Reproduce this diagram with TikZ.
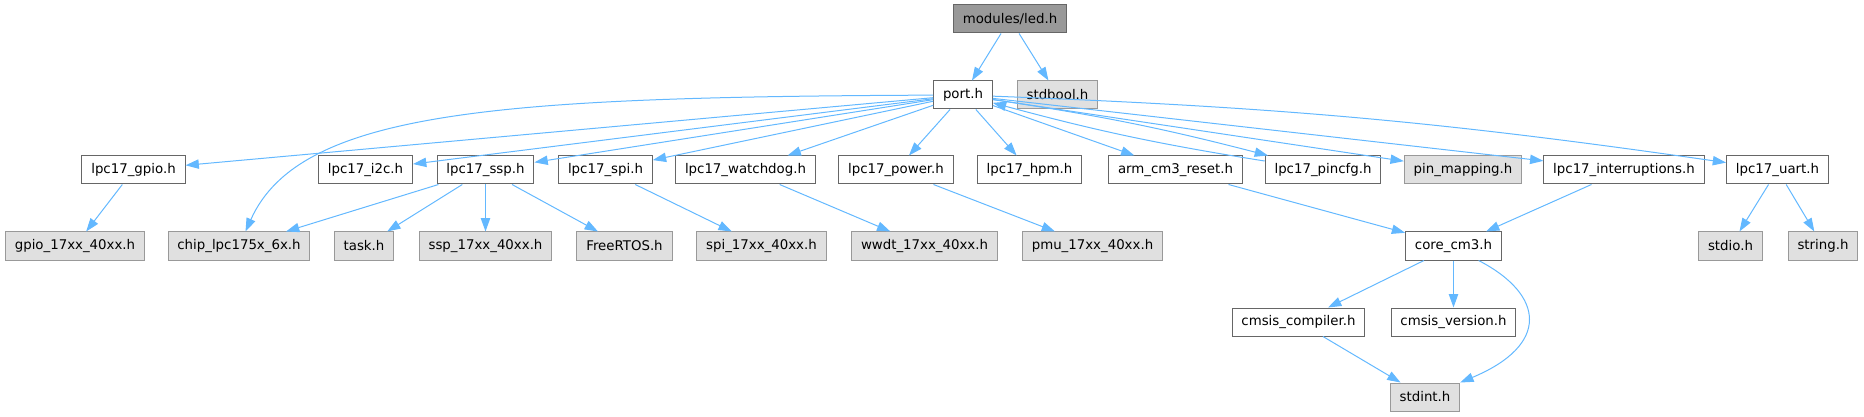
\documentclass[tikz,border=0pt]{standalone}
\usepackage{fontspec}
\setmainfont{DejaVu Sans}
\usetikzlibrary{arrows.meta}

\definecolor{edgeblue}{HTML}{63B8FF}
\definecolor{boxgrey}{HTML}{666666}
\definecolor{extgrey}{HTML}{999999}
\definecolor{extfill}{HTML}{E0E0E0}

\tikzset{
  hfile/.style={draw=boxgrey, fill=white, line width=0.75pt, minimum height=21pt,
    inner xsep=7pt, inner ysep=0pt, font=\fontsize{10}{12}\selectfont},
  extfile/.style={hfile, draw=extgrey, fill=extfill},
  rootfile/.style={hfile, fill=extgrey},
  inc/.style={draw=edgeblue, line width=0.75pt, -{Triangle[length=10pt,width=7pt]}}
}

\begin{document}
\begin{tikzpicture}[x=0.75pt, y=-0.75pt]
        \useasboundingbox (0,0) rectangle (1864,417);
        \def\yA{19}
        \def\yB{95}
        \def\yC{170}
        \def\yD{246}
        \def\yE{322}
        \def\yF{397}

        % ===== top =====
        \node[rootfile] (led) at (1010,\yA) {modules/led.h};
        \node[hfile] (port) at (963,\yB) {port.h};
        \node[extfile] (stdbool) at (1057.5,\yB) {stdbool.h};

        % ===== drivers =====
        \node[hfile] (gpio) at (133.5,\yC) {lpc17\_gpio.h};
        \node[hfile] (i2c) at (365.5,\yC) {lpc17\_i2c.h};
        \node[hfile] (ssp) at (485.5,\yC) {lpc17\_ssp.h};
        \node[hfile] (spi) at (605.5,\yC) {lpc17\_spi.h};
        \node[hfile] (watchdog) at (745.5,\yC) {lpc17\_watchdog.h};
        \node[hfile] (power) at (896,\yC) {lpc17\_power.h};
        \node[hfile] (hpm) at (1029.5,\yC) {lpc17\_hpm.h};
        \node[hfile] (reset) at (1175.5,\yC) {arm\_cm3\_reset.h};
        \node[hfile] (pincfg) at (1323,\yC) {lpc17\_pincfg.h};
        \node[extfile] (pinmap) at (1463,\yC) {pin\_mapping.h};
        \node[hfile] (intr) at (1624,\yC) {lpc17\_interruptions.h};
        \node[hfile] (uart) at (1777.5,\yC) {lpc17\_uart.h};

        % ===== chip level =====
        \node[extfile] (gpiodrv) at (75,\yD) {gpio\_17xx\_40xx.h};
        \node[extfile] (chip) at (239,\yD) {chip\_lpc175x\_6x.h};
        \node[extfile] (task) at (364,\yD) {task.h};
        \node[extfile] (sspdrv) at (485.5,\yD) {ssp\_17xx\_40xx.h};
        \node[extfile] (freertos) at (624.5,\yD) {FreeRTOS.h};
        \node[extfile] (spidrv) at (761.5,\yD) {spi\_17xx\_40xx.h};
        \node[extfile] (wwdt) at (924.5,\yD) {wwdt\_17xx\_40xx.h};
        \node[extfile] (pmu) at (1092.5,\yD) {pmu\_17xx\_40xx.h};
        \node[hfile] (core) at (1453.5,\yD) {core\_cm3.h};
        \node[extfile] (stdio) at (1730.5,\yD) {stdio.h};
        \node[extfile] (string) at (1823,\yD) {string.h};

        % ===== cmsis =====
        \node[hfile] (compiler) at (1298.5,\yE) {cmsis\_compiler.h};
        \node[hfile] (version) at (1453.5,\yE) {cmsis\_version.h};
        \node[extfile] (stdint) at (1425,\yF) {stdint.h};

        % ===== includes =====
        \draw[inc] (led) -- (port);
        \draw[inc] (led) -- (stdbool);
        \foreach \t in {gpio,i2c,ssp,spi,watchdog,power,hpm,reset,pinmap,intr}
          \draw[inc] (port) -- (\t);
        \draw[inc] (port) .. controls (500,97) and (300,110) .. (chip);
        \draw[inc] (port) to[bend left=3] (uart);
        \draw[inc] (port) to[bend left=3] (pincfg);
        \draw[inc] (pincfg) to[bend left=3] (port);

        \draw[inc] (gpio) -- (gpiodrv);
        \foreach \t in {chip,task,sspdrv,freertos}
          \draw[inc] (ssp) -- (\t);
        \draw[inc] (spi) -- (spidrv);
        \draw[inc] (watchdog) -- (wwdt);
        \draw[inc] (power) -- (pmu);
        \draw[inc] (reset) -- (core);
        \draw[inc] (intr) -- (core);
        \draw[inc] (uart) -- (stdio);
        \draw[inc] (uart) -- (string);

        \draw[inc] (core) -- (compiler);
        \draw[inc] (core) -- (version);
        \draw[inc] (core.-30) .. controls (1545,295) and (1550,345) .. (stdint.north east);
        \draw[inc] (compiler) -- (stdint);
    \end{tikzpicture}
\end{document}
